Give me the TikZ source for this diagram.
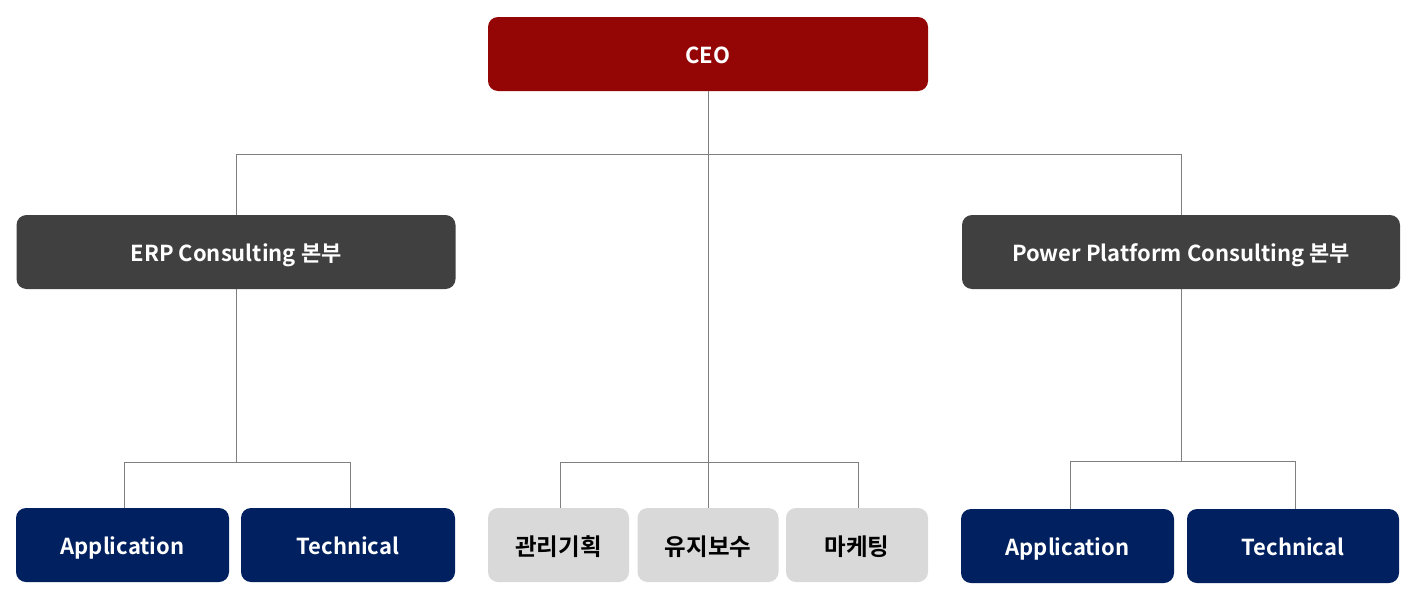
\documentclass[tikz,border=0pt]{standalone}
\usepackage{fontspec}
\setmainfont{Noto Sans CJK KR}[BoldFont={Noto Sans CJK KR Bold}]
\definecolor{ceored}{HTML}{940606}
\definecolor{divgray}{HTML}{404040}
\definecolor{teamnavy}{HTML}{002060}
\definecolor{unitgray}{HTML}{D9D9D9}
\definecolor{linegray}{HTML}{7F7F7F}
\begin{document}
\begin{tikzpicture}[x=1pt,y=-1pt,
  box/.style={rounded corners=10pt, inner sep=0pt, minimum height=74pt,
    font=\bfseries\fontsize{22}{26}\selectfont, text=white,
    text height=19pt, text depth=0pt},
  ceobox/.style={box, fill=ceored},
  divbox/.style={box, fill=divgray},
  teambox/.style={box, fill=teamnavy},
  unitbox/.style={box, fill=unitgray, text=black,
    font=\bfseries\fontsize{23.5}{28}\selectfont,
    text height=20pt, text depth=0pt},
  conn/.style={draw=linegray, line width=1pt}]
\useasboundingbox (0,0) rectangle (1419,608);
\node[ceobox, minimum width=440pt] (ceo) at (708,54) {CEO};
\node[divbox, minimum width=439pt] (erp) at (236,252) {ERP Consulting 본부};
\node[divbox, minimum width=438pt] (pp) at (1181,252) {Power Platform Consulting 본부};
\node[teambox, minimum width=213pt] (app1) at (122.5,545) {Application};
\node[teambox, minimum width=214pt] (tech1) at (348,545) {Technical};
\node[unitbox, minimum width=141pt] (mgmt) at (558.5,545) {관리기획};
\node[unitbox, minimum width=141pt] (maint) at (708,545) {유지보수};
\node[unitbox, minimum width=142pt] (mkt) at (857,545) {마케팅};
\node[teambox, minimum width=213pt] (app2) at (1067.5,546) {Application};
\node[teambox, minimum width=212pt] (tech2) at (1293,546) {Technical};
% junction points
\coordinate (hub) at (708,154);
\coordinate (jl) at (236,154);
\coordinate (jr) at (1181,154);
\coordinate (cl) at (560,462);
\coordinate (cr) at (858,462);
\coordinate (ebar) at (236,462);
\coordinate (el) at (124,462);
\coordinate (er) at (350,462);
\coordinate (pbar) at (1181,461);
\coordinate (pl) at (1070,461);
\coordinate (pr) at (1295,461);
% top level
\draw[conn] (ceo.south) -- (hub);
\draw[conn] (jl) -- (jr);
\draw[conn] (jl) -- (erp.north);
\draw[conn] (jr) -- (pp.north);
% center units
\draw[conn] (hub) -- (maint.north);
\draw[conn] (cl) -- (cr);
\draw[conn] (cl) -- (cl |- mgmt.north);
\draw[conn] (cr) -- (cr |- mkt.north);
% ERP teams
\draw[conn] (erp.south) -- (ebar);
\draw[conn] (el) -- (er);
\draw[conn] (el) -- (el |- app1.north);
\draw[conn] (er) -- (er |- tech1.north);
% PP teams
\draw[conn] (pp.south) -- (pbar);
\draw[conn] (pl) -- (pr);
\draw[conn] (pl) -- (pl |- app2.north);
\draw[conn] (pr) -- (pr |- tech2.north);
\end{tikzpicture}
\end{document}
